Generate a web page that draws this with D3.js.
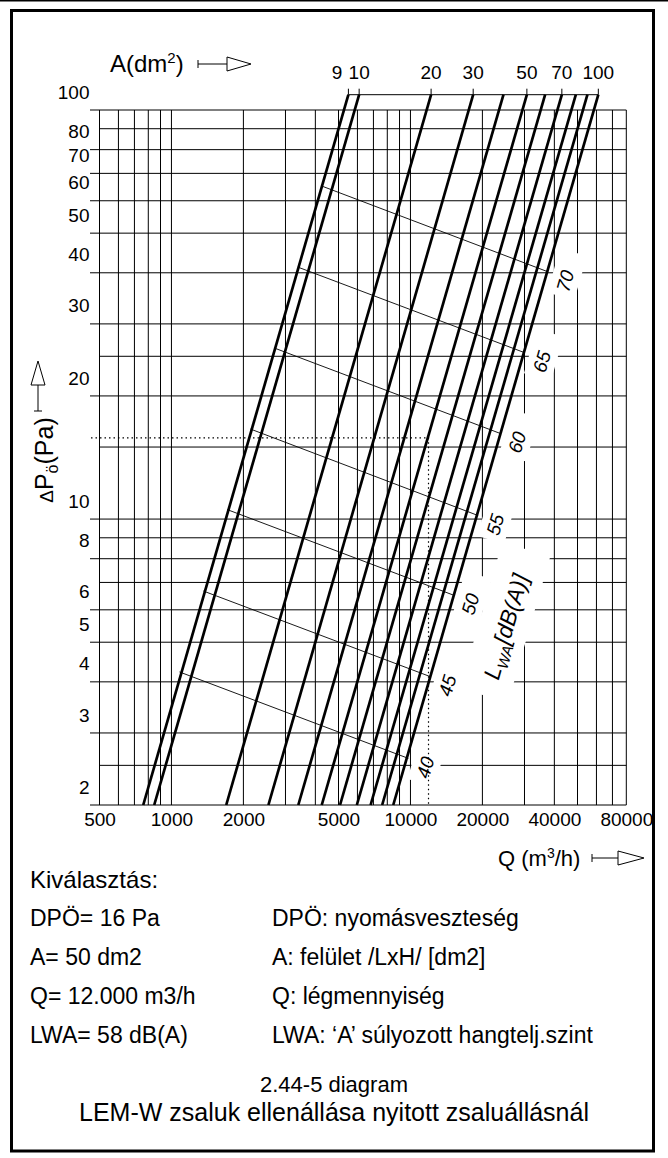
<!DOCTYPE html>
<html>
<head>
<meta charset="utf-8">
<script src="https://cdn.jsdelivr.net/npm/d3@7"></script>
<style>
  body { margin: 0; background: #fff; }
  svg text { font-family: "Liberation Sans", Arial, sans-serif; fill: #000; }
</style>
</head>
<body>
<svg id="chart" width="668" height="1158"></svg>
<script>
// air flow Q (m3/h): grid lines and labelled ticks
const qGrid = [500, 600, 700, 800, 900, 1000, 2000, 3000, 4000, 5000, 6000, 7000, 8000, 9000,
  10000, 20000, 30000, 40000, 50000, 60000, 70000, 80000];
const qLabels = [500, 1000, 2000, 5000, 10000, 20000, 40000, 80000];

// pressure drop dP (Pa): grid lines and labelled ticks
const pGrid = [2, 2.5, 3, 4, 5, 6, 7, 8, 9, 10, 15, 20, 25, 30, 40, 50, 60, 70, 80, 90, 100];
const pLabels = [2, 3, 4, 5, 6, 8, 10, 20, 30, 40, 50, 60, 70, 80, 100];

// damper area lines A (dm2): Q where each line meets the A scale and the 2 Pa axis
const areas = [9, 10, 20, 30, 40, 50, 60, 70, 80, 90, 100];
const areaLabels = [9, 10, 20, 30, 50, 70, 100];
const areaScaleP = 109;
const areaTopQ = [5500, 6100, 12200, 18300, 24500, 30700, 36600, 43000, 49200, 55000, 61100];
const areaBottomQ = [762, 847, 1695, 2545, 3394, 4254, 5074, 5966, 6811, 7614, 8473];

// sound power lines LWA dB(A): start and end points (Q, dP)
const lwaLevels = [70, 65, 60, 55, 50, 45, 40];
const lwaStartQ = [4250, 3380, 2690, 2140, 1710, 1360, 1080];
const lwaStartP = [65.2, 41.3, 26.2, 16.6, 10.55, 6.67, 4.23];
const lwaEndQ = [37700, 30100, 23700, 19200, 15100, 12100, 9800];
const lwaEndP = [40.2, 25.5, 16.2, 10.2, 6.52, 4.12, 2.6];

// worked example (dotted lines)
const exampleQ = 11900;
const exampleP = 15.8;

// text below the chart
const selection = ["DPÖ= 16 Pa", "A= 50 dm2", "Q= 12.000 m3/h", "LWA= 58 dB(A)"];
const legendNotes = ["DPÖ: nyomásveszteség", "A: felület /LxH/ [dm2]", "Q: légmennyiség",
  "LWA: ‘A’ súlyozott hangtelj.szint"];

const svg = d3.select("#chart");

let x = d3.scaleLog().domain([500, 80000]).range([99.5, 626.3]);
let y = d3.scaleLog().domain([2, 100]).range([805, 110]);

// outer frame
svg.append("rect").attr("x", 0).attr("y", 0).attr("width", 668).attr("height", 1.5).attr("fill", "#000");
svg.append("rect")
  .attr("x", 11.5).attr("y", 10.5)
  .attr("width", 642).attr("height", 1140.5)
  .attr("fill", "none").attr("stroke", "#000").attr("stroke-width", 3);

// grid
let grid = svg.append("g").attr("stroke", "#000").attr("stroke-width", 1);
grid.selectAll(".vline")
  .data(qGrid)
  .join("line")
  .attr("class", "vline")
  .attr("x1", (d) => x(d)).attr("x2", (d) => x(d))
  .attr("y1", y(100)).attr("y2", y(2));
grid.selectAll(".hline")
  .data(pGrid)
  .join("line")
  .attr("class", "hline")
  .attr("x1", (d) => (pLabels.includes(d) ? 90 : x(500)))
  .attr("x2", x(80000))
  .attr("y1", (d) => y(d)).attr("y2", (d) => y(d));

// direction of the area lines, used to rotate the LWA labels
let dx = x(areaTopQ[0]) - x(areaBottomQ[0]);
let dy = y(areaScaleP) - y(2);
let angle = (Math.atan2(dy, dx) * 180) / Math.PI;

let lwaLabelPos = lwaLevels.map((d, i) => ({
  level: d,
  cx: x(lwaEndQ[i]) + 17,
  cy: y(lwaEndP[i]) + 9,
}));
let titlePos = { cx: 507, cy: 627 };

// white boxes that break the grid behind the labels
let boxes = svg.append("g").attr("fill", "#fff");
boxes.selectAll("rect")
  .data(lwaLabelPos)
  .join("rect")
  .attr("transform", (d) => "translate(" + d.cx + "," + d.cy + ") rotate(" + angle + ")")
  .attr("x", -16).attr("y", -14).attr("width", 46).attr("height", 28);
boxes.append("rect")
  .attr("transform", "translate(" + titlePos.cx + "," + titlePos.cy + ") rotate(" + angle + ")")
  .attr("x", -72).attr("y", -28).attr("width", 152).attr("height", 50);

// example dotted lines
svg.append("path")
  .attr("d", "M91," + y(exampleP) + "H" + x(exampleQ) + "V" + y(2))
  .attr("fill", "none")
  .attr("stroke", "#000")
  .attr("stroke-width", 1.2)
  .attr("stroke-dasharray", "1.5,3");

// area lines
svg.append("g")
  .selectAll("line")
  .data(areas)
  .join("line")
  .attr("x1", (d, i) => x(areaTopQ[i])).attr("y1", y(areaScaleP))
  .attr("x2", (d, i) => x(areaBottomQ[i])).attr("y2", y(2))
  .attr("stroke", "#000")
  .attr("stroke-width", 2.7);

// A scale on top
let aScale = svg.append("g").attr("stroke", "#000").attr("stroke-width", 1);
aScale.append("line")
  .attr("x1", x(areaTopQ[0])).attr("x2", x(areaTopQ[areaTopQ.length - 1]))
  .attr("y1", y(areaScaleP)).attr("y2", y(areaScaleP));
aScale.selectAll(".atick")
  .data(areaLabels)
  .join("line")
  .attr("class", "atick")
  .attr("x1", (d) => x(areaTopQ[areas.indexOf(d)]))
  .attr("x2", (d) => x(areaTopQ[areas.indexOf(d)]))
  .attr("y1", y(areaScaleP) - 6).attr("y2", y(areaScaleP));
svg.append("g")
  .selectAll("text")
  .data(areaLabels)
  .join("text")
  .attr("x", (d) => x(areaTopQ[areas.indexOf(d)]) + (d === 9 ? -6 : 0))
  .attr("y", y(areaScaleP) - 16)
  .attr("text-anchor", (d) => (d === 9 ? "end" : "middle"))
  .style("font-size", "19px")
  .text((d) => d);

// LWA lines
svg.append("g")
  .selectAll("line")
  .data(lwaLevels)
  .join("line")
  .attr("x1", (d, i) => x(lwaStartQ[i])).attr("y1", (d, i) => y(lwaStartP[i]))
  .attr("x2", (d, i) => x(lwaEndQ[i])).attr("y2", (d, i) => y(lwaEndP[i]))
  .attr("stroke", "#000")
  .attr("stroke-width", 0.9);

svg.append("g")
  .selectAll("text")
  .data(lwaLabelPos)
  .join("text")
  .attr("transform", (d) => "translate(" + d.cx + "," + d.cy + ") rotate(" + angle + ")")
  .attr("text-anchor", "middle")
  .attr("dy", "0.35em")
  .style("font-size", "19px")
  .style("font-style", "italic")
  .text((d) => d.level);

let lwaTitle = svg.append("text")
  .attr("transform", "translate(" + titlePos.cx + "," + titlePos.cy + ") rotate(" + angle + ")")
  .attr("text-anchor", "middle")
  .attr("dy", "0.3em")
  .style("font-size", "23px")
  .style("font-style", "italic");
lwaTitle.append("tspan").text("L");
lwaTitle.append("tspan").attr("dy", 5).style("font-size", "15px").text("WA");
lwaTitle.append("tspan").attr("dy", -5).text("[dB(A)]");

// axes
let xAxis = svg.append("g")
  .attr("transform", "translate(0," + y(2) + ")")
  .call(d3.axisBottom(x).tickValues(qLabels).tickFormat(d3.format("d")).tickSize(0).tickPadding(8));
xAxis.select(".domain").remove();
xAxis.attr("font-size", 19).attr("font-family", null);

let yAxis = svg.append("g")
  .attr("transform", "translate(" + x(500) + ",0)")
  .call(d3.axisLeft(y).tickValues(pLabels).tickFormat(d3.format("d")).tickSize(0).tickPadding(10));
yAxis.select(".domain").remove();
yAxis.attr("font-size", 19).attr("font-family", null);
yAxis.selectAll("text").attr("y", -18);

// axis titles with arrows
function arrow(g, len, head) {
  g.append("line").attr("x1", 0).attr("x2", 0).attr("y1", -4).attr("y2", 4);
  g.append("line").attr("x1", 0).attr("x2", len).attr("y1", 0).attr("y2", 0);
  g.append("path")
    .attr("d", "M" + len + ",-7L" + (len + head) + ",0L" + len + ",7Z")
    .attr("fill", "#fff");
}

let aTitle = svg.append("text").attr("x", 110).attr("y", 72).style("font-size", "24px");
aTitle.append("tspan").text("A(dm");
aTitle.append("tspan").attr("dy", -9).style("font-size", "15px").text("2");
aTitle.append("tspan").attr("dy", 9).text(")");
arrow(svg.append("g").attr("transform", "translate(198,64)").attr("stroke", "#000").attr("stroke-width", 1), 29, 24);

let qTitle = svg.append("text").attr("x", 498).attr("y", 866).style("font-size", "22px");
qTitle.append("tspan").text("Q (m");
qTitle.append("tspan").attr("dy", -8).style("font-size", "14px").text("3");
qTitle.append("tspan").attr("dy", 8).text("/h)");
arrow(svg.append("g").attr("transform", "translate(592,858)").attr("stroke", "#000").attr("stroke-width", 1), 26, 26);

let pTitle = svg.append("text")
  .attr("transform", "translate(53,460) rotate(-90)")
  .attr("text-anchor", "middle")
  .style("font-size", "25px");
pTitle.append("tspan").style("font-size", "19px").text("Δ");
pTitle.append("tspan").text("P");
pTitle.append("tspan").attr("dy", 5).style("font-size", "16px").text("ö");
pTitle.append("tspan").attr("dy", -5).text("(Pa)");
arrow(svg.append("g").attr("transform", "translate(38,411) rotate(-90)").attr("stroke", "#000").attr("stroke-width", 1), 26, 24);

// text block
svg.append("text").attr("x", 30).attr("y", 888).style("font-size", "24px").text("Kiválasztás:");
svg.append("g")
  .selectAll("text")
  .data(selection)
  .join("text")
  .attr("x", 30)
  .attr("y", (d, i) => 926 + i * 39)
  .style("font-size", "23px")
  .text((d) => d);
svg.append("g")
  .selectAll("text")
  .data(legendNotes)
  .join("text")
  .attr("x", 272)
  .attr("y", (d, i) => 926 + i * 39)
  .style("font-size", "23px")
  .text((d) => d);
svg.append("text").attr("x", 334).attr("y", 1092).attr("text-anchor", "middle")
  .style("font-size", "22px").text("2.44-5 diagram");
svg.append("text").attr("x", 334).attr("y", 1121).attr("text-anchor", "middle")
  .style("font-size", "25px").text("LEM-W zsaluk ellenállása nyitott zsaluállásnál");
</script>
</body>
</html>
